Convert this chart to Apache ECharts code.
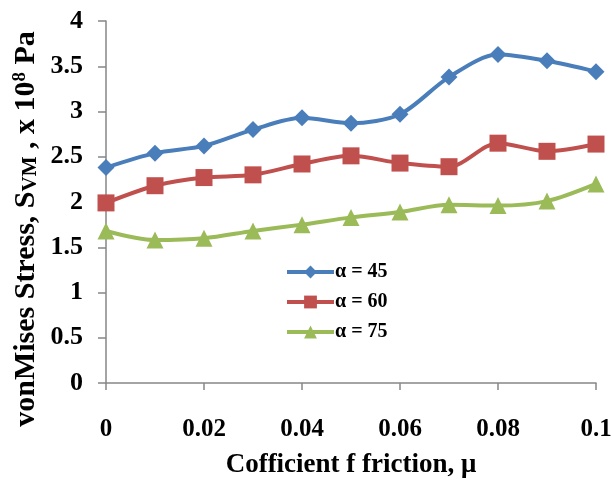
<!DOCTYPE html>
<html>
<head>
<meta charset="utf-8">
<script src="https://cdn.jsdelivr.net/npm/echarts@6/dist/echarts.min.js"></script>
<style>html,body{margin:0;padding:0;background:#fff}#c{width:612px;height:480px}</style>
</head>
<body>
<div id="c"></div>
<script>
const mu = [0, 0.01, 0.02, 0.03, 0.04, 0.05, 0.06, 0.07, 0.08, 0.09, 0.1];
const alpha45 = [2.38, 2.54, 2.62, 2.80, 2.93, 2.87, 2.97, 3.38, 3.63, 3.56, 3.44];
const alpha60 = [1.99, 2.18, 2.27, 2.30, 2.42, 2.51, 2.43, 2.39, 2.65, 2.56, 2.64];
const alpha75 = [1.68, 1.58, 1.60, 1.68, 1.75, 1.83, 1.89, 1.97, 1.96, 2.01, 2.20];
const seriesNames = ['α = 45', 'α = 60', 'α = 75'];
const xTitle = 'Cofficient f friction, μ';
const yTitle = '{a|vonMises Stress, S}{s|VM}{a| , x 10}{p|8}{a| Pa}';

const FONT = '"Liberation Serif", "Times New Roman", serif';
const chart = echarts.init(document.getElementById('c'), null, {renderer: 'canvas'});
const pair = ys => mu.map((x, i) => [x, ys[i]]);
const colors = ['#4A7EBB', '#C0504D', '#9BBB59'];
const symbols = ['diamond', 'rect', 'triangle'];
const sizes = [17, 17, 17];
const data = [alpha45, alpha60, alpha75];

chart.setOption({
  animation: false,
  backgroundColor: '#fff',
  grid: {left: 106, right: 16, top: 21, bottom: 97, containLabel: false, outerBoundsMode: 'none'},
  legend: {
    orient: 'vertical', left: 285, top: 262, itemGap: 10, padding: 0,
    itemWidth: 47, itemHeight: 16,
    lineStyle: {width: 4},
    textStyle: {fontFamily: FONT, fontWeight: 'bold', fontSize: 20, color: '#000', padding: [0, 0, 0, -4]},
    data: seriesNames
  },
  graphic: [{
    type: 'text', x: 26, y: 229, rotation: Math.PI / 2,
    style: {
      text: yTitle, align: 'center', verticalAlign: 'middle',
      rich: {
        a: {fontFamily: FONT, fontWeight: 'bold', fontSize: 30, fill: '#000'},
        s: {fontFamily: FONT, fontWeight: 'bold', fontSize: 21, fill: '#000', verticalAlign: 'bottom', padding: [10, 0, 0, 0]},
        p: {fontFamily: FONT, fontWeight: 'bold', fontSize: 19, fill: '#000', verticalAlign: 'top', padding: [0, 0, 12, 0]}
      }
    }
  }],
  xAxis: {
    type: 'value', min: 0, max: 0.1, interval: 0.02,
    name: xTitle, nameLocation: 'middle', nameGap: 69,
    nameTextStyle: {fontFamily: FONT, fontWeight: 'bold', fontSize: 27, color: '#000'},
    axisLine: {onZero: false, lineStyle: {color: '#868686', width: 1.5}},
    axisTick: {show: true, length: 7, lineStyle: {color: '#868686', width: 1.5}},
    axisLabel: {fontFamily: FONT, fontWeight: 'bold', fontSize: 25, color: '#000', margin: 34,
      formatter: v => v === 0 ? '0' : String(+v.toFixed(2))},
    splitLine: {show: false}
  },
  yAxis: {
    type: 'value', min: 0, max: 4, interval: 0.5,
    axisLine: {show: true, lineStyle: {color: '#868686', width: 1.5}},
    axisTick: {show: true, length: 8, lineStyle: {color: '#868686', width: 1.5}},
    axisLabel: {fontFamily: FONT, fontWeight: 'bold', fontSize: 26, color: '#000', margin: 23,
      formatter: v => String(v)},
    splitLine: {show: false}
  },
  series: seriesNames.map((n, i) => ({
    name: n, type: 'line', data: pair(data[i]), smooth: 0.3,
    symbol: symbols[i], symbolSize: sizes[i], showSymbol: true,
    lineStyle: {color: colors[i], width: 4},
    itemStyle: {color: colors[i]},
    z: 3 - i
  }))
});
</script>
</body>
</html>
